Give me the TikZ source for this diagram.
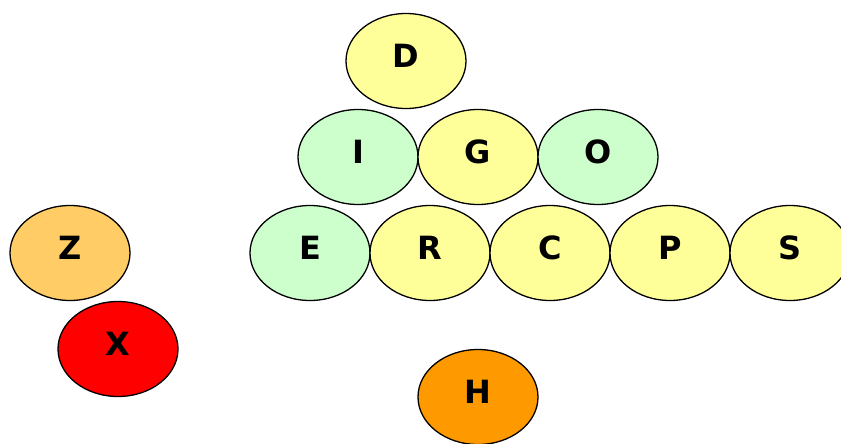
\documentclass[tikz,border=0pt]{standalone}
\usepackage{fontspec}
\setmainfont{DejaVu Sans}
\usetikzlibrary{shapes.geometric}
\definecolor{cyel}{HTML}{FFFF99}
\definecolor{cgrn}{HTML}{CCFFCC}
\definecolor{cz}{HTML}{FFCC66}
\definecolor{cx}{HTML}{FF0000}
\definecolor{ch}{HTML}{FF9900}
\begin{document}
\begin{tikzpicture}[x=1pt,y=-1pt,
  blob/.style={ellipse,draw=black,line width=1.3pt,minimum width=120pt,minimum height=95pt,inner sep=0pt,
    font=\fontsize{32}{34}\selectfont\bfseries,text height=23pt,text depth=11pt}]
\useasboundingbox (0,0) rectangle (841,444);
\node[blob,fill=cyel] (D) at (406,61) {D};
\node[blob,fill=cgrn] (I) at (358,157) {I};
\node[blob,fill=cyel] (G) at (478,157) {G};
\node[blob,fill=cgrn] (O) at (598,157) {O};
\node[blob,fill=cgrn] (E) at (310,253) {E};
\node[blob,fill=cyel] (R) at (430,253) {R};
\node[blob,fill=cyel] (C) at (550,253) {C};
\node[blob,fill=cyel] (P) at (670,253) {P};
\node[blob,fill=cyel] (S) at (790,253) {S};
\node[blob,fill=cz] (Z) at (70,253) {Z};
\node[blob,fill=cx] (X) at (118,349) {X};
\node[blob,fill=ch] (H) at (478,397) {H};
\end{tikzpicture}
\end{document}
